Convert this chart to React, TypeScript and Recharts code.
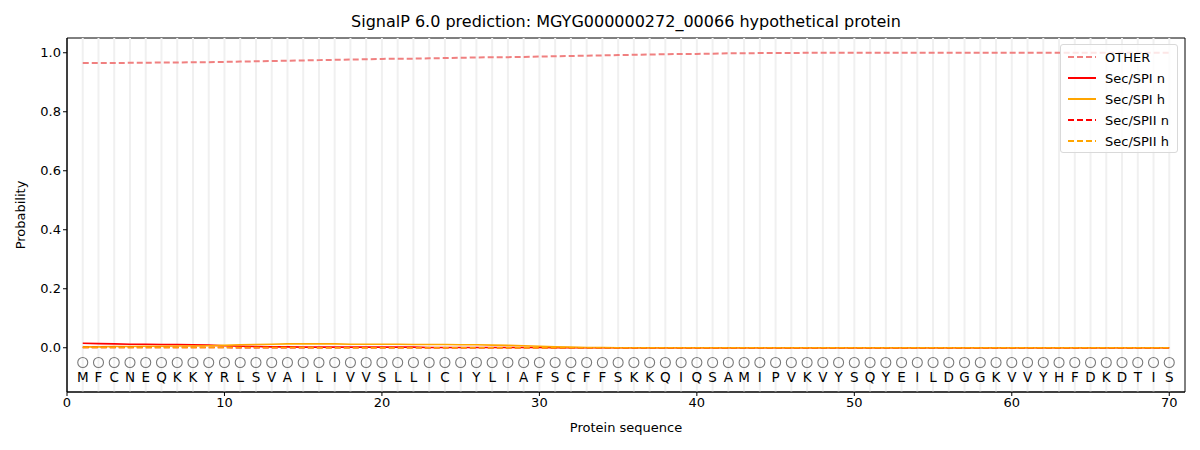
import React from "react";
import {
  ComposedChart,
  Line,
  Scatter,
  XAxis,
  YAxis,
  ReferenceLine,
  ReferenceArea,
} from "recharts";

const residues = "MFCNEQKKYRLSVAILIVVSLLICIYLIAFSCFFSKKQIQSAMIPVKVYSQYEILDGGKVVYHFDKDTIS".split("");

const otherProb = [
  0.965, 0.965, 0.965, 0.966, 0.966, 0.967, 0.967, 0.968, 0.968, 0.969,
  0.97, 0.971, 0.972, 0.973, 0.974, 0.975, 0.976, 0.977, 0.978, 0.979,
  0.98, 0.98, 0.981, 0.982, 0.983, 0.984, 0.985, 0.985, 0.986, 0.987,
  0.988, 0.989, 0.99, 0.991, 0.992, 0.993, 0.994, 0.995, 0.996, 0.996,
  0.997, 0.998, 0.998, 0.999, 0.999, 0.999, 1.0, 1.0, 1.0, 1.0,
  1.0, 1.0, 1.0, 1.0, 1.0, 1.0, 1.0, 1.0, 1.0, 1.0,
  1.0, 1.0, 1.0, 1.0, 1.0, 1.0, 1.0, 1.0, 1.0, 1.0,
];

const spiN = [
  0.015, 0.014, 0.013, 0.012, 0.012, 0.011, 0.011, 0.01, 0.009, 0.007,
  0.005, 0.004, 0.003, 0.003, 0.002, 0.002, 0.002, 0.002, 0.002, 0.002,
  0.002, 0.002, 0.001, 0.001, 0.001, 0.001, 0.001, 0.001, 0.001, 0.001,
  0, 0, 0, 0, 0, 0, 0, 0, 0, 0,
  0, 0, 0, 0, 0, 0, 0, 0, 0, 0,
  0, 0, 0, 0, 0, 0, 0, 0, 0, 0,
  0, 0, 0, 0, 0, 0, 0, 0, 0, 0,
];

const spiH = [
  0.003, 0.003, 0.004, 0.004, 0.005, 0.005, 0.006, 0.006, 0.007, 0.008,
  0.01, 0.011, 0.012, 0.013, 0.013, 0.013, 0.013, 0.012, 0.012, 0.012,
  0.012, 0.011, 0.011, 0.011, 0.01, 0.01, 0.009, 0.008, 0.007, 0.005,
  0.003, 0.002, 0.001, 0.001, 0, 0, 0, 0, 0, 0,
  0, 0, 0, 0, 0, 0, 0, 0, 0, 0,
  0, 0, 0, 0, 0, 0, 0, 0, 0, 0,
  0, 0, 0, 0, 0, 0, 0, 0, 0, 0,
];

const spiiN = [
  0.001, 0.001, 0.001, 0.001, 0.001, 0.001, 0.001, 0.001, 0.001, 0.001,
  0, 0, 0, 0, 0, 0, 0, 0, 0, 0,
  0, 0, 0, 0, 0, 0, 0, 0, 0, 0,
  0, 0, 0, 0, 0, 0, 0, 0, 0, 0,
  0, 0, 0, 0, 0, 0, 0, 0, 0, 0,
  0, 0, 0, 0, 0, 0, 0, 0, 0, 0,
  0, 0, 0, 0, 0, 0, 0, 0, 0, 0,
];

const spiiH = [
  0.001, 0.001, 0.001, 0.001, 0.001, 0.001, 0.001, 0.001, 0.001, 0.001,
  0.001, 0.001, 0.001, 0.001, 0.001, 0, 0, 0, 0, 0,
  0, 0, 0, 0, 0, 0, 0, 0, 0, 0,
  0, 0, 0, 0, 0, 0, 0, 0, 0, 0,
  0, 0, 0, 0, 0, 0, 0, 0, 0, 0,
  0, 0, 0, 0, 0, 0, 0, 0, 0, 0,
  0, 0, 0, 0, 0, 0, 0, 0, 0, 0,
];

const xTicks = [0, 10, 20, 30, 40, 50, 60, 70];
const yTicks = [0, 0.2, 0.4, 0.6, 0.8, 1.0];

const series = [
  { key: "other", name: "OTHER", color: "#f08080", dash: "6 3" },
  { key: "spiN", name: "Sec/SPI n", color: "#ff0000", dash: undefined },
  { key: "spiH", name: "Sec/SPI h", color: "#ffa500", dash: undefined },
  { key: "spiiN", name: "Sec/SPII n", color: "#ff0000", dash: "6 3" },
  { key: "spiiH", name: "Sec/SPII h", color: "#ffa500", dash: "6 3" },
];

const data = residues.map((aa, i) => ({
  pos: i + 1,
  aa,
  other: otherProb[i],
  spiN: spiN[i],
  spiH: spiH[i],
  spiiN: spiiN[i],
  spiiH: spiiH[i],
}));

const circleData = residues.map((aa, i) => ({ pos: i + 1, y: -0.05, aa }));
const letterData = residues.map((aa, i) => ({ pos: i + 1, y: -0.1, aa }));

const font = "DejaVu Sans, sans-serif";

const Circle = (props: any) => (
  <circle cx={props.cx} cy={props.cy} r={5} fill="none" stroke="#7a7a7a" strokeWidth={1.1} />
);

const Letter = (props: any) => (
  <text
    x={props.cx}
    y={props.cy}
    textAnchor="middle"
    dominantBaseline="central"
    fontSize={13.5}
    fontFamily={font}
    fill="#000"
  >
    {props.payload.aa}
  </text>
);

const LegendBox = () => (
  <div
    style={{
      position: "absolute",
      left: 1060,
      top: 44,
      width: 118,
      height: 109,
      background: "rgba(255,255,255,0.8)",
      border: "1px solid #d9d9d9",
      borderRadius: 3,
      boxSizing: "border-box",
      fontFamily: font,
      fontSize: 13,
    }}
  >
    {series.map((s, i) => (
      <div
        key={s.key}
        style={{ position: "absolute", left: 6, top: 3 + i * 21, height: 18, display: "flex", alignItems: "center" }}
      >
        <svg width={30} height={6}>
          <line x1={1} y1={3} x2={29} y2={3} stroke={s.color} strokeWidth={2} strokeDasharray={s.dash} />
        </svg>
        <span style={{ marginLeft: 8, color: "#000" }}>{s.name}</span>
      </div>
    ))}
  </div>
);

export default function App() {
  return (
    <div style={{ position: "absolute", left: 0, top: 0, width: 1200, height: 450, background: "#fff" }}>
      <div
        style={{
          position: "absolute",
          left: 67,
          width: 1118,
          top: 12,
          textAlign: "center",
          fontFamily: font,
          fontSize: 16,
          color: "#000",
        }}
      >
        SignalP 6.0 prediction: MGYG000000272_00066 hypothetical protein
      </div>
      <ComposedChart
        width={1200}
        height={450}
        data={data}
        margin={{ top: 38, right: 15, bottom: 28, left: 0 }}
      >
        <XAxis
          dataKey="pos"
          type="number"
          domain={[0, 71]}
          ticks={xTicks}
          allowDataOverflow
          height={30}
          stroke="#000"
          tick={{ fill: "#000", fontSize: 13, fontFamily: font }}
          tickSize={4}
          label={{ value: "Protein sequence", position: "insideBottom", offset: -10, fill: "#000", fontSize: 13, fontFamily: font }}
        />
        <YAxis
          type="number"
          domain={[-0.15, 1.05]}
          ticks={yTicks}
          allowDataOverflow
          width={67}
          stroke="#000"
          tickFormatter={(v: number) => v.toFixed(1)}
          tick={{ fill: "#000", fontSize: 13, fontFamily: font }}
          tickSize={4}
          label={{ value: "Probability", angle: -90, position: "insideLeft", offset: 20, fill: "#000", fontSize: 13, fontFamily: font, style: { textAnchor: "middle" } }}
        />
        {data.map((d) => (
          <ReferenceLine key={"g" + d.pos} x={d.pos} stroke="#f0f0f0" strokeWidth={2} />
        ))}
        {series.map((s) => (
          <Line
            key={s.key}
            type="linear"
            dataKey={s.key}
            name={s.name}
            stroke={s.color}
            strokeWidth={s.key === "other" ? 2 : 1.6}
            strokeDasharray={s.dash}
            dot={false}
            activeDot={false}
            isAnimationActive={false}
          />
        ))}
        <Scatter data={circleData} dataKey="y" shape={<Circle />} isAnimationActive={false} />
        <Scatter data={letterData} dataKey="y" shape={<Letter />} isAnimationActive={false} />
        <ReferenceArea x1={0} x2={71} y1={-0.15} y2={1.05} fill="none" stroke="#000" strokeWidth={1} ifOverflow="visible" />
      </ComposedChart>
      <LegendBox />
    </div>
  );
}
